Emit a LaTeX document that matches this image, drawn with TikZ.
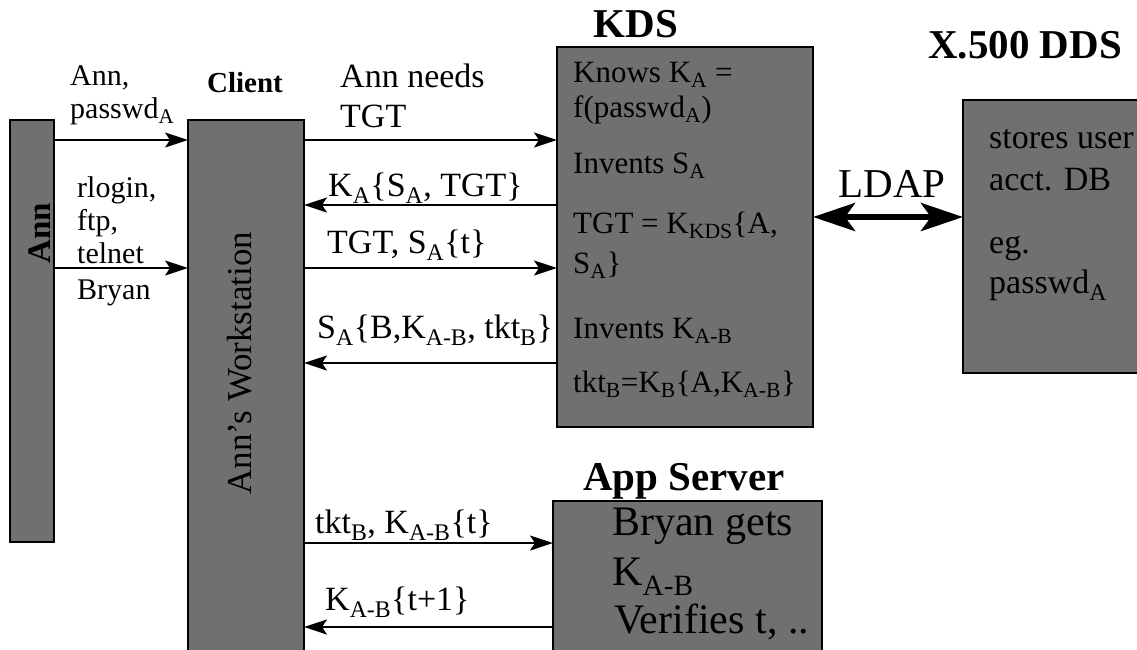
\documentclass[tikz,border=0pt]{standalone}
\usepackage{fontspec}
\setmainfont{Liberation Serif}
\usetikzlibrary{arrows.meta}
\newcommand{\lo}[1]{\textsubscript{#1}}
\tikzset{
  box/.style={draw=black, line width=2pt, fill=black!56, inner sep=0pt, outer sep=0pt, anchor=north west},
  lbl/.style={anchor=base west, inner sep=0pt, font=\fontsize{34}{40}\selectfont},
  llbl/.style={anchor=base west, inner sep=0pt, font=\fontsize{30}{34}\selectfont},
  kds/.style={anchor=base west, inner sep=0pt, font=\fontsize{31}{36}\selectfont},
  xds/.style={anchor=base west, inner sep=0pt, font=\fontsize{34}{38}\selectfont},
  app/.style={anchor=base west, inner sep=0pt, font=\fontsize{42}{48}\selectfont},
  ttl/.style={anchor=base, inner sep=0pt, font=\bfseries\fontsize{41}{46}\selectfont},
  msg/.style={line width=2pt, -{Stealth[length=23pt,width=15pt,inset=5pt]}},
  big/.style={line width=6pt, {Stealth[length=42pt,width=28pt,inset=10pt]}-{Stealth[length=42pt,width=28pt,inset=10pt]}}
}
\begin{document}
\begin{tikzpicture}[x=1pt,y=-1pt]
\useasboundingbox (0,0) rectangle (1137,649);
\clip (0,0) rectangle (1137,649);
% boxes
\node[box, minimum width=44pt, minimum height=422pt] (ann) at (10,120) {};
\node[box, minimum width=116pt, minimum height=540pt] (client) at (188,120) {};
\node[box, minimum width=256pt, minimum height=380pt] (kdsbox) at (557,47) {};
\node[box, minimum width=175pt, minimum height=273pt] (xbox) at (963,100) {};
\node[box, minimum width=269pt, minimum height=160pt] (appbox) at (553,501) {};
% rotated texts
\node[rotate=90, inner sep=0pt, font=\bfseries\fontsize{33}{38}\selectfont] (anntxt) at (40,233) {Ann};
\node[rotate=90, inner sep=0pt, font=\fontsize{35}{40}\selectfont] (clienttxt) at (240,363) {Ann's Workstation};
% titles
\node[ttl, font=\bfseries\fontsize{29}{34}\selectfont] (tclient) at (245,92) {Client};
\node[ttl] (tkds) at (636,37) {KDS};
\node[ttl] (tx) at (1025,58) {X.500 DDS};
\node[ttl] (tapp) at (684,490) {App Server};
% KDS contents
\node[kds] (k1) at (573,82) {Knows K\lo{A} =};
\node[kds] (k2) at (573,117) {f(passwd\lo{A})};
\node[kds] (k3) at (573,173) {Invents S\lo{A}};
\node[kds] (k4) at (573,233) {TGT = K\lo{KDS}\{A,};
\node[kds] (k5) at (573,273) {S\lo{A}\}};
\node[kds] (k6) at (573,338) {Invents K\lo{A-B}};
\node[kds] (k7) at (573,392) {tkt\lo{B}=K\lo{B}\{A,K\lo{A-B}\}};
% X.500 contents
\node[xds] (x1) at (989,148) {stores user};
\node[xds] (x2) at (989,190) {acct. DB};
\node[xds] (x3) at (989,253) {eg.};
\node[xds] (x4) at (989,293) {passwd\lo{A}};
% App contents
\node[app] (a1) at (612,535) {Bryan gets};
\node[app] (a2) at (612,585) {K\lo{A-B}};
\node[app] (a3) at (614,633) {Verifies t, ..};
% levels
\coordinate (y1) at (0,140);
\coordinate (y2) at (0,268);
\coordinate (y3) at (0,140);
\coordinate (y4) at (0,205);
\coordinate (y5) at (0,268);
\coordinate (y6) at (0,363);
\coordinate (y7) at (0,543);
\coordinate (y8) at (0,627);
\coordinate (yl) at (0,217);
% connectors
\draw[msg] (ann.east |- y1) -- (client.west |- y1);
\draw[msg] (ann.east |- y2) -- (client.west |- y2);
\draw[msg] (client.east |- y3) -- (kdsbox.west |- y3);
\draw[msg] (kdsbox.west |- y4) -- (client.east |- y4);
\draw[msg] (client.east |- y5) -- (kdsbox.west |- y5);
\draw[msg] (kdsbox.west |- y6) -- (client.east |- y6);
\draw[msg] (client.east |- y7) -- (appbox.west |- y7);
\draw[msg] (appbox.west |- y8) -- (client.east |- y8);
\draw[big] (kdsbox.east |- yl) -- (xbox.west |- yl);
% labels
\node[llbl] (l1) at (70,85) {Ann,};
\node[llbl] (l2) at (70,118) {passwd\lo{A}};
\node[llbl] (l3) at (77,197) {rlogin,};
\node[llbl] (l4) at (77,230) {ftp,};
\node[llbl] (l5) at (77,263) {telnet};
\node[llbl] (l6) at (77,299) {Bryan};
\node[lbl] (m1) at (340,87) {Ann needs};
\node[lbl] (m2) at (340,127) {TGT};
\node[lbl] (m3) at (328,196) {K\lo{A}\{S\lo{A}, TGT\}};
\node[lbl] (m4) at (327,253) {TGT, S\lo{A}\{t\}};
\node[lbl] (m5) at (317,338) {S\lo{A}\{B,K\lo{A-B}, tkt\lo{B}\}};
\node[lbl] (m6) at (315,533) {tkt\lo{B}, K\lo{A-B}\{t\}};
\node[lbl] (m7) at (325,610) {K\lo{A-B}\{t+1\}};
\node[font=\fontsize{41}{46}\selectfont, anchor=base, inner sep=0pt] (ldap) at (892,197) {LDAP};
\end{tikzpicture}
\end{document}
